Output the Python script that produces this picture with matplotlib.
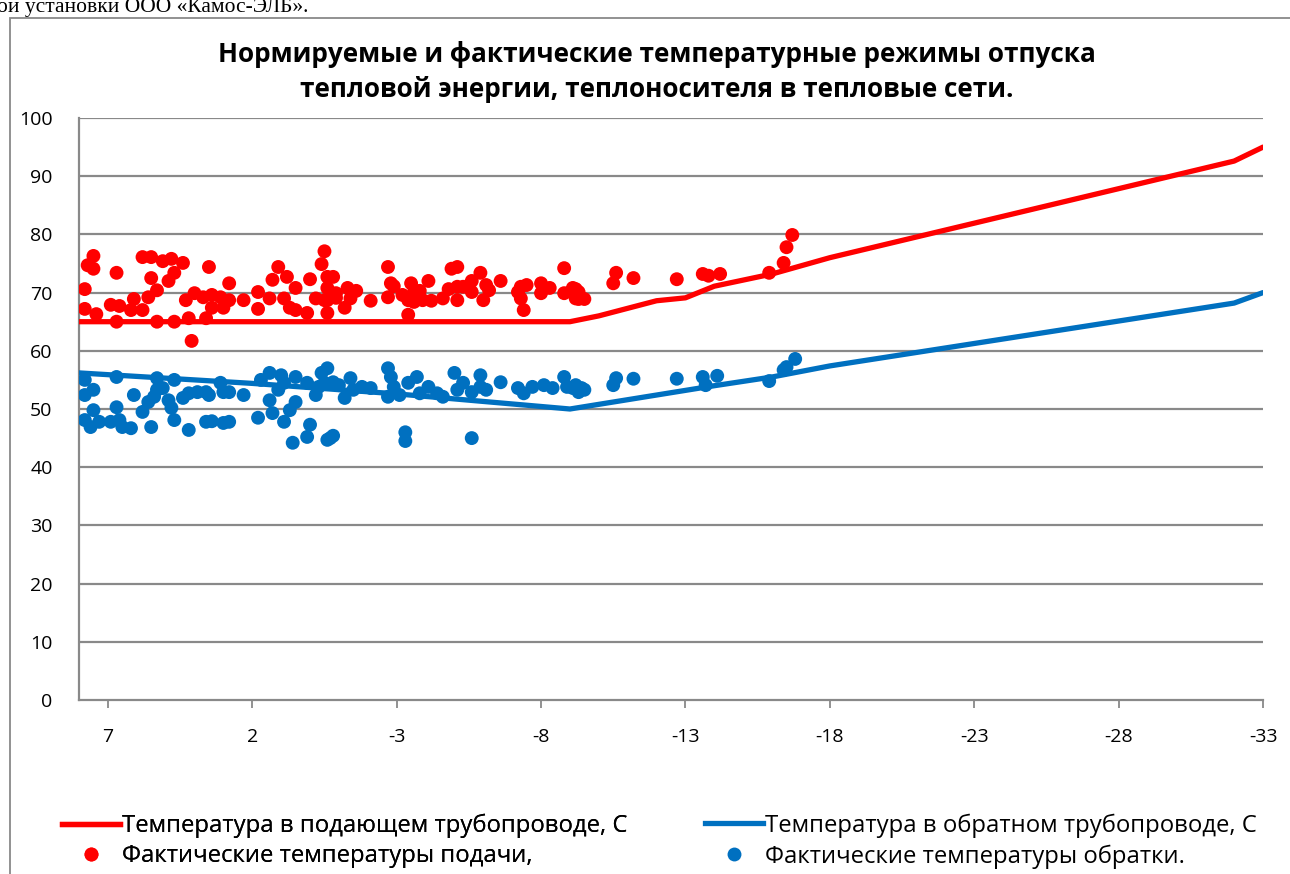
import matplotlib
matplotlib.use("Agg")
import matplotlib.pyplot as plt
from matplotlib.patches import Rectangle
from matplotlib.lines import Line2D

plt.rcParams['font.family'] = ['Open Sans', 'DejaVu Sans']
plt.rcParams['axes.unicode_minus'] = False

# normative curves (outdoor temp -> water temp)
norm_t = [8, -9, -10, -12, -13, -14, -16, -18, -32, -33]
supply_norm = [65, 65, 66, 68.6, 69.1, 71.1, 73.2, 76.0, 92.6, 95.0]
ret_t = [8, 2, -3, -9, -10, -14, -16, -18, -32, -33]
return_norm = [56.2, 54.4, 52.6, 50.0, 50.8, 54.0, 55.5, 57.4, 68.2, 70.0]

# measured supply temperatures
sup_x = [7.5, 7.7, 7.5, 7.8, 7.8, 7.4, 6.7, 6.9, 6.6, 6.7, 6.2, 6.1, 5.8, 5.5, 5.5, 5.6,
         5.3, 5.8, 5.3, 5.1, 4.8, 4.4, 4.7, 4.9, 4.7, 4.3, 4.0, 3.7, 3.5, 3.4, 3.4, 3.1,
         3.0, 2.8, 2.8, 2.3, 4.2, 4.1, 3.6, 1.8, 1.8, 1.3, 1.1, 0.8, 1.4, 0.9, 0.7, 0.5,
         0.5, 0.1, 0.0, -0.2, -0.5, -0.4, -0.6, -0.6,
         -0.8, -0.6, -0.5, -0.9, -0.6, -0.9, -1.2, -1.3, -1.4, -1.6, -2.1, -2.7, -2.8,
         -2.9, -2.7, -3.2, -3.5, -3.6, -3.4, -3.6, -3.8, -3.9, -4.1, -4.2, -3.4, -4.6,
         -4.8, -4.9, -5.1, -5.1, -5.1, -5.3, -5.6, -5.6, -5.9, -6.0, -6.1, -6.2, -6.6,
         -7.2, -7.3, -7.4, -7.3, -7.5, -8.0, -8.0, -8.3, -8.8, -8.8, -9.1, -9.2,
         -9.2, -9.3, -9.3, -9.5, -10.6, -10.5, -11.2, -12.7, -13.6, -13.8, -14.2,
         -15.9, -16.4, -16.5, -16.7]
sup_y = [76.3, 74.7, 74.1, 70.6, 67.2, 66.3, 73.4, 67.9, 67.7, 65.0, 67.0, 68.9, 76.1, 76.1,
         72.5, 69.2, 70.4, 67.0, 65.0, 75.4, 75.8, 75.1, 73.4, 72.0, 65.0, 68.7, 69.9, 69.2,
         74.4, 69.6, 67.4, 69.2, 67.4, 71.6, 68.7, 68.7, 65.6, 61.7, 65.6, 70.1, 67.2, 72.2,
         74.4, 72.7, 69.0, 69.0, 67.4, 67.0, 70.8, 66.5, 72.3, 69.0, 77.1, 74.9, 72.7, 68.7,
         72.7, 70.8, 68.7, 69.9, 66.5, 69.1, 67.4, 70.8, 69.0, 70.3, 68.6, 74.4, 71.6,
         71.1, 69.2, 69.6, 71.6, 70.1, 68.7, 68.4, 70.3, 68.7, 72.0, 68.6, 66.2, 69.0,
         70.6, 74.1, 74.4, 68.7, 71.0, 71.0, 72.0, 70.1, 73.4, 68.7, 71.3, 70.4, 72.0,
         70.1, 69.0, 67.0, 71.0, 71.3, 71.6, 69.9, 70.8, 74.2, 69.9, 70.8, 69.0,
         70.6, 70.1, 68.9, 68.9, 73.4, 71.6, 72.5, 72.3, 73.2, 72.9, 73.2,
         73.4, 75.1, 77.8, 79.9]

# measured return temperatures
ret_x = [7.8, 7.8, 7.5, 7.5, 7.8, 7.6, 7.3, 6.7, 6.7, 6.9, 6.6, 6.5, 6.2, 6.1, 5.8, 5.6,
         5.5, 5.3, 5.3, 5.1, 5.4, 4.9, 4.8, 4.7, 4.7, 4.4, 4.2, 4.2, 3.9, 3.6, 3.5, 3.6,
         3.4, 3.1, 3.0, 2.8, 3.0, 2.8, 2.3, 1.8, 1.7, 1.4, 1.0, 1.4, 1.3, 1.1, 0.9, 0.9,
         0.7, 0.6, 0.5, 0.5, 0.1, 0.0, 0.1, -0.2, -0.3, -0.4, -0.6,
         -0.6, -0.5, -0.8, -1.0, -1.2, -1.4, -1.5, -1.8, -2.1, -2.7, -2.8, -2.9, -2.7,
         -3.1, -3.4, -3.7, -3.8, -4.1, -4.4, -4.6, -5.0, -5.1, -5.3, -5.6, -5.9, -5.9,
         -6.1, -6.6, -7.2, -7.4, -7.7, -8.1, -8.4, -8.8, -8.9, -9.1, -9.3, -0.7, -0.8,
         -3.3, -3.3, -5.6,
         -9.2, -9.4, -9.5, -10.5, -10.6, -11.2, -12.7, -13.6, -13.7, -14.1, -15.9,
         -16.4, -16.5, -16.8]
ret_y = [55.0, 52.4, 53.3, 49.8, 48.1, 46.9, 47.8, 55.5, 50.3, 47.8, 48.1, 46.9, 46.7, 52.4,
         49.5, 51.2, 46.9, 55.3, 53.3, 53.6, 52.1, 51.5, 50.2, 55.0, 48.1, 51.9, 46.4, 52.7,
         52.9, 52.9, 52.4, 47.8, 47.9, 54.5, 52.9, 52.9, 47.6, 47.8, 52.4, 48.5, 55.0, 56.2,
         55.8, 51.5, 49.3, 53.3, 54.5, 47.8, 49.8, 44.2, 55.5, 51.2, 54.5, 47.3, 45.2, 52.4,
         53.8, 56.2, 44.7,
         57.0, 54.5, 54.6, 54.1, 51.9, 55.3, 53.3, 53.8, 53.6, 57.0, 55.5, 53.8, 52.1,
         52.4, 54.5, 55.5, 52.7, 53.8, 52.7, 52.1, 56.2, 53.3, 54.5, 52.9, 53.8, 55.8,
         53.3, 54.6, 53.6, 52.7, 53.8, 54.1, 53.6, 55.5, 53.8, 53.6, 52.9, 45.0, 45.4,
         46.0, 44.5, 45.0,
         54.1, 53.6, 53.3, 54.1, 55.3, 55.2, 55.2, 55.5, 54.1, 55.7, 54.8,
         56.7, 57.2, 58.6]

xticks = [7, 2, -3, -8, -13, -18, -23, -28, -33]
title = ("Нормируемые и фактические температурные режимы отпуска\n"
         "тепловой энергии, теплоносителя в тепловые сети.")
lbl_sup = "Температура в подающем трубопроводе, С"
lbl_ret = "Температура в обратном трубопроводе, С"
lbl_sup_f = "Фактические температуры подачи,"
lbl_ret_f = "Фактические температуры обратки."

red = '#ff0000'
blue = '#0070c0'
grid_c = '#898989'

W, H = 1290, 874
fig = plt.figure(figsize=(W/100, H/100), dpi=100)
ax = fig.add_axes([79/W, 1-700/H, (1263-79)/W, (700-118)/H])

# chart frame and cut-off document text above it
fig.patches.append(Rectangle((10/W, -0.05), 1.2, 1-18/H+0.05, transform=fig.transFigure,
                             fill=False, edgecolor=grid_c, lw=1.3))
fig.text(-3/W, 1-12/H, "ой установки ООО «Камос-ЭЛБ».", family='Liberation Serif',
         fontsize=15.5, va='baseline', ha='left')

for yv in range(10, 101, 10):
    ax.axhline(yv, color=grid_c, lw=1.6, zorder=0)

ax.plot(norm_t, supply_norm, color=red, lw=3.8, solid_capstyle='round', zorder=3)
ax.plot(ret_t, return_norm, color=blue, lw=3.8, solid_capstyle='round', zorder=3)
ax.scatter(sup_x, sup_y, s=100, color=red, edgecolors='none', zorder=4)
ax.scatter(ret_x, ret_y, s=100, color=blue, edgecolors='none', zorder=4)

ax.set_xlim(8, -33)
ax.set_ylim(0, 100)
ax.set_yticks(range(0, 101, 10))
ax.set_xticks(xticks)
ax.tick_params(axis='y', length=0, labelsize=14, pad=19)
ax.tick_params(axis='x', length=6, width=1.3, color=grid_c, labelsize=14, pad=14)
for s in ['top', 'right']:
    ax.spines[s].set_visible(False)
for s in ['left', 'bottom']:
    ax.spines[s].set_color(grid_c)
    ax.spines[s].set_linewidth(1.6)

fig.text(657/W, 1-72/H, title, ha='center', va='center', fontsize=18.8,
         fontweight='bold', linespacing=1.35)

h1 = [Line2D([], [], color=red, lw=3.8),
      Line2D([], [], color=red, marker='o', ls='none', markersize=10, markeredgewidth=0)]
h2 = [Line2D([], [], color=blue, lw=3.8),
      Line2D([], [], color=blue, marker='o', ls='none', markersize=10, markeredgewidth=0)]
kw = dict(frameon=False, loc='center left', fontsize=17.2, handlelength=2.43,
          handletextpad=0.1, labelspacing=0.27, borderpad=0, borderaxespad=0)
leg1 = fig.legend(h1, [lbl_sup, lbl_sup_f], bbox_to_anchor=(62/W, 1-841/H), **kw)
fig.add_artist(leg1)
fig.legend(h2, [lbl_ret, lbl_ret_f], bbox_to_anchor=(705/W, 1-841/H), **kw)

fig.savefig("out.png", dpi=100)
